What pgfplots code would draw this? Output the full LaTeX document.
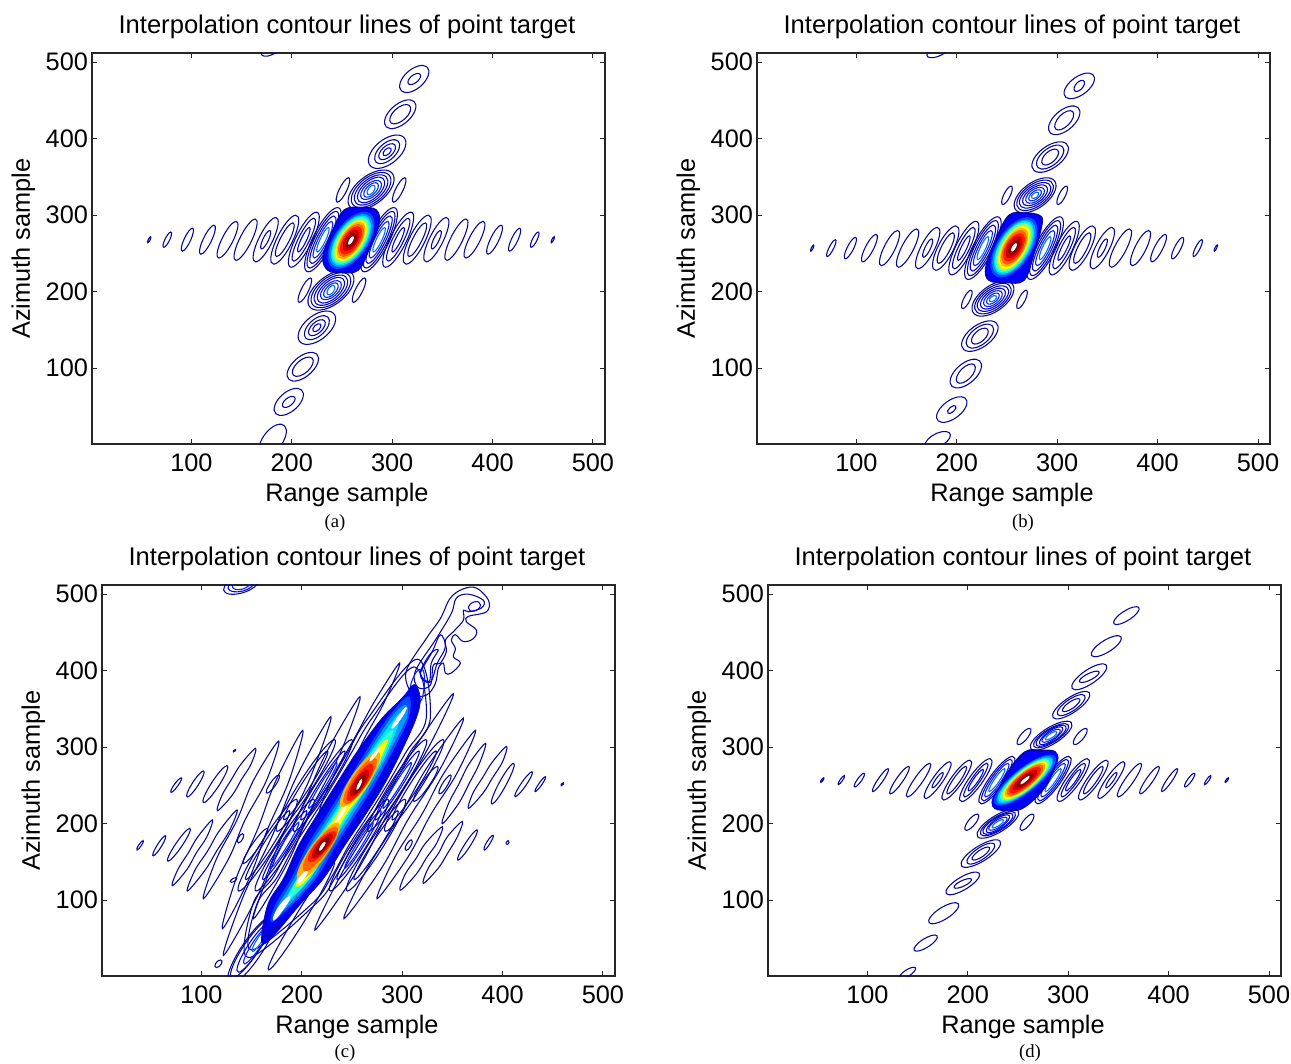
\documentclass[border=0pt]{standalone}
\usepackage{pgfplots}
\pgfplotsset{compat=1.18}
\usepackage{fontspec}
\setmainfont{Liberation Sans}
\newfontfamily\capfont{Liberation Serif}
\definecolor{J0}{rgb}{0.02,0.02,0.6}
\definecolor{J1}{rgb}{0,0,0.85}
\definecolor{J2}{rgb}{0,0.12,1}
\definecolor{J3}{rgb}{0,0.42,1}
\definecolor{K1}{rgb}{0,0,1}
\definecolor{K2}{rgb}{0,0.3,1}
\definecolor{K3}{rgb}{0,0.6,1}
\definecolor{K4}{rgb}{0,0.9,1}
\definecolor{K5}{rgb}{0.2,1,0.8}
\definecolor{K6}{rgb}{0.6,1,0.4}
\definecolor{K7}{rgb}{1,1,0}
\definecolor{K8}{rgb}{1,0.7,0}
\definecolor{K9}{rgb}{1,0.4,0}
\definecolor{K10}{rgb}{1,0.1,0}
\definecolor{K11}{rgb}{0.8,0,0}
\definecolor{K12}{rgb}{0.55,0,0}
\newcommand\Ea[1]{\addplot[J0,line width=0.8pt,smooth cycle,tension=1,no markers] coordinates {#1};}
\newcommand\Eb[1]{\addplot[J1,line width=0.8pt,smooth cycle,tension=1,no markers] coordinates {#1};}
\newcommand\Ec[1]{\addplot[J2,line width=0.8pt,smooth cycle,tension=1,no markers] coordinates {#1};}
\newcommand\Ed[1]{\addplot[J3,line width=0.8pt,smooth cycle,tension=1,no markers] coordinates {#1};}
\newcommand\Ma[1]{\addplot[J0,line width=0.8pt,smooth cycle,tension=0.6,no markers] coordinates {#1};}
\newcommand\Mb[1]{\addplot[J1,line width=0.8pt,smooth cycle,tension=0.6,no markers] coordinates {#1};}
\newcommand\Mc[1]{\addplot[J2,line width=0.8pt,smooth cycle,tension=0.6,no markers] coordinates {#1};}
\newcommand\Fl[2]{\addplot[draw=#1,fill=#1,line width=0.5pt,smooth cycle,tension=1,no markers] coordinates {#2};}
\newcommand\Fm[2]{\addplot[draw=#1,fill=#1,line width=0.5pt,smooth cycle,tension=0.6,no markers] coordinates {#2};}
\newcommand\Fo[1]{\addplot[draw=J0,fill=K1,line width=0.9pt,smooth cycle,tension=0.6,no markers] coordinates {#1};}
\pgfplotsset{panel/.style={
  scale only axis,width=384.75pt,height=293.25pt,
  xmin=1,xmax=512,ymin=1,ymax=512,
  xtick={100,200,300,400,500},ytick={100,200,300,400,500},
  tick align=inside,tick pos=both,major tick length=4pt,
  axis line style={line width=0.9pt,black!85},
  every tick/.style={black!85,line width=0.7pt},
  /pgf/number format/assume math mode=true,
  tick label style={font=\fontsize{19}{21}\selectfont},
  xticklabel style={yshift=-3.5pt},
  yticklabel style={xshift=0.5pt},
  every axis title shift=0pt,
  title={Interpolation contour lines of point target},
  xlabel={Range sample},ylabel={Azimuth sample},
  title style={at={(axis description cs:0.497,1.0665)},anchor=center,font=\fontsize{19.2}{21}\selectfont},
  xlabel style={at={(axis description cs:0.497,-0.130)},anchor=center,font=\fontsize{19}{21}\selectfont},
  ylabel style={at={(axis description cs:-0.134,0.5)},anchor=center,font=\fontsize{19}{21}\selectfont},
}}
\begin{document}
\begin{tikzpicture}
\path[use as bounding box] (0,0) rectangle (968.25pt,797.25pt);
% ---------------- (a)
\begin{axis}[panel,at={(69pt,464.25pt)},anchor=south west]
\Ea{(59.4,272)(59,268)(56.6,264)(57,268)}
\Ea{(79.5,278)(78.5,268)(72.5,258)(73.5,268)}
\Ea{(101,283)(99.5,268)(91,253)(92.5,268)}
\Ea{(122.5,287)(120.5,268)(109.5,249)(111.5,268)}
\Ea{(144.5,292)(142,268)(127.5,244)(130,268)}
\Ea{(163.5,295)(160.5,268)(144.5,241)(147.5,268)}
\Ea{(184,297)(181.5,268)(164,239)(166.5,268)}
\Ea{(178,280)(177,268)(170,256)(171,268)}
\Ea{(204,300)(201.5,268)(182,236)(184.5,268)}
\Ea{(201,290)(198,268)(185,246)(188,268)}
\Ea{(224.5,304)(221,268)(199.5,232)(203,268)}
\Ea{(222,296)(218,268)(202,240)(206,268)}
\Eb{(217.5,284)(215,268)(206.5,252)(209,268)}
\Ea{(245.5,310)(242,268)(216.5,226)(220,268)}
\Ea{(244,305)(240,268)(218,231)(222,268)}
\Eb{(242,299)(238,268)(220,237)(224,268)}
\Ec{(239.5,292)(236,268)(222.5,244)(226,268)}
\Ed{(236.5,284)(234,268)(225.5,252)(228,268)}
\Ea{(301.5,310)(298,268)(272.5,226)(276,268)}
\Ea{(300,305)(296,268)(274,231)(278,268)}
\Eb{(298,299)(294,268)(276,237)(280,268)}
\Ec{(295.5,292)(292,268)(278.5,244)(282,268)}
\Ed{(292.5,284)(290,268)(281.5,252)(284,268)}
\Ea{(318.5,304)(315,268)(293.5,232)(297,268)}
\Ea{(316,296)(312,268)(296,240)(300,268)}
\Eb{(311.5,284)(309,268)(300.5,252)(303,268)}
\Ea{(336,300)(333.5,268)(314,236)(316.5,268)}
\Ea{(333,290)(330,268)(317,246)(320,268)}
\Ea{(354,297)(351.5,268)(334,239)(336.5,268)}
\Ea{(348,280)(347,268)(340,256)(341,268)}
\Ea{(373.5,295)(370.5,268)(354.5,241)(357.5,268)}
\Ea{(390.5,292)(388,268)(373.5,244)(376,268)}
\Ea{(408.5,287)(406.5,268)(395.5,249)(397.5,268)}
\Ea{(427,283)(425.5,268)(417,253)(418.5,268)}
\Ea{(445.5,278)(444.5,268)(438.5,258)(439.5,268)}
\Ea{(461.4,272)(461,268)(458.6,264)(459,268)}
% vertical
\Ea{(326,495)(336,483)(318,461)(308,473)}
\Ea{(324,485)(328,480)(320,471)(316,476)}
\Ea{(312.5,450)(323,437.5)(303.5,414)(293,426.5)}
\Ea{(311,444)(318,436)(305,420)(298,428)}
\Ea{(300,404)(313,389)(290,362)(277,377)}
\Ea{(298.5,398)(307,387.5)(291.5,368)(283,378.5)}
\Ea{(297.5,393)(303,386)(292.5,373)(287,380)}
\Eb{(296,388)(299,384.5)(294,378)(291,381.5)}
\Ea{(285.5,358)(301,340.5)(272.5,308)(257,325.5)}
\Ea{(284.5,355)(298,339.5)(273.5,311)(260,326.5)}
\Eb{(284,352)(295,338.5)(274,314)(263,327.5)}
\Eb{(283,349)(292,338)(275,317)(266,328)}
\Ec{(282,345)(289,336.5)(276,321)(269,329.5)}
\Ec{(281,342)(286,336)(277,324)(272,330)}
\Ed{(280,339)(283,335)(278,327)(275,331)}
\Ea{(256.5,349)(255,333)(245.5,317)(247,333)}
\Ea{(312.5,349)(311,333)(301.5,317)(303,333)}
\Ea{(245.5,227)(261,209.5)(232.5,177)(217,194.5)}
\Ea{(244.5,224)(258,208.5)(233.5,180)(220,195.5)}
\Eb{(244,221)(255,207.5)(234,183)(223,196.5)}
\Eb{(243,218)(252,207)(235,186)(226,197)}
\Ec{(242,214)(249,205.5)(236,190)(229,198.5)}
\Ec{(241,211)(246,205)(237,193)(232,199)}
\Ed{(240,208)(243,204)(238,196)(235,200)}
\Ea{(218.5,218)(217,202)(207.5,186)(209,202)}
\Ea{(272.5,218)(271,202)(261.5,186)(263,202)}
\Ea{(230,174)(243,159)(220,132)(207,147)}
\Ea{(228.5,168)(237,157.5)(221.5,138)(213,148.5)}
\Ea{(227.5,163)(233,156)(222.5,143)(217,150)}
\Eb{(226,158)(229,154.5)(224,148)(221,151.5)}
\Ea{(215.5,120)(226,107.5)(206.5,84)(196,96.5)}
\Ea{(214,114)(221,106)(208,90)(201,98)}
\Ea{(201,73)(211,61)(193,39)(183,51)}
\Ea{(199,63)(203,58)(195,49)(191,54)}
\Ea{(185,26)(194,12)(177,-14)(168,0)}
\Ea{(182,524)(188,518)(176,508)(170,514)}
% centre
\Fo{(252.4,307)(269,310)(284,307)(287,289)(277,255)(266,228)(249,225)(236,228)(231,246)(241,281)}
\Fl{K1}{(273,307)(280,267)(245,227)(238,267)}
\Fl{K2}{(272,304)(278,267)(246,230)(240,267)}
\Fl{K3}{(271,301)(276.5,267)(247,233)(241.5,267)}
\Fl{K4}{(270,299)(275,267)(248,235)(243,267)}
\Fl{K5}{(269.5,297)(274,267)(248.5,237)(244,267)}
\Fl{K6}{(269,295)(272.5,267)(249,239)(245.5,267)}
\Fl{K7}{(268,293)(271.5,267)(250,241)(246.5,267)}
\Fl{K8}{(267.5,291)(270,267)(250.5,243)(248,267)}
\Fl{K9}{(266.5,288)(269,267)(251.5,246)(249,267)}
\Fl{K10}{(265.5,285)(267.5,267)(252.5,249)(250.5,267)}
\Fl{K11}{(263.5,280.5)(265.5,267)(254.5,253.5)(252.5,267)}
\Fl{K12}{(262,276)(263.5,267)(256,258)(254.5,267)}
\Fl{white}{(261,272)(260.7,267)(257,262)(257.3,267)}
\end{axis}
% ---------------- (b)
\begin{axis}[panel,at={(567.75pt,464.25pt)},anchor=south west]
\Ea{(57.4,261)(57,257)(54.6,253)(55,257)}
\Ea{(79,268)(77.5,257)(71,246)(72.5,257)}
\Ea{(99,271)(97.5,257)(89,243)(90.5,257)}
\Ea{(119.5,275)(117.5,257)(106.5,239)(108.5,257)}
\Ea{(141,280)(139,257)(125,234)(127,257)}
\Ea{(160,282)(157.5,257)(142,232)(144.5,257)}
\Ea{(180.5,284)(178.5,257)(161.5,230)(163.5,257)}
\Ea{(175,269)(174,257)(167,245)(168,257)}
\Ea{(199,286)(197.5,257)(179,228)(180.5,257)}
\Ea{(196,277)(194,257)(182,237)(184,257)}
\Ea{(219,292)(216,257)(195,222)(198,257)}
\Ea{(216.5,284)(213,257)(197.5,230)(201,257)}
\Eb{(212.5,273)(210,257)(201.5,241)(204,257)}
\Ea{(240.5,298)(237,257)(211.5,216)(215,257)}
\Ea{(238.5,293)(235,257)(213.5,221)(217,257)}
\Eb{(236.5,287)(233,257)(215.5,227)(219,257)}
\Ec{(234,280)(231,257)(218,234)(221,257)}
\Ed{(231,272)(229,257)(221,242)(223,257)}
\Ea{(302.5,298)(299,257)(273.5,216)(277,257)}
\Ea{(300.5,293)(297,257)(275.5,221)(279,257)}
\Eb{(298.5,287)(295,257)(277.5,227)(281,257)}
\Ec{(296,280)(293,257)(280,234)(283,257)}
\Ed{(293,272)(291,257)(283,242)(285,257)}
\Ea{(319,292)(316,257)(295,222)(298,257)}
\Ea{(316.5,284)(313,257)(297.5,230)(301,257)}
\Eb{(312.5,273)(310,257)(301.5,241)(304,257)}
\Ea{(335,286)(333.5,257)(315,228)(316.5,257)}
\Ea{(332,277)(330,257)(318,237)(320,257)}
\Ea{(354.5,284)(352.5,257)(335.5,230)(337.5,257)}
\Ea{(349,269)(348,257)(341,245)(342,257)}
\Ea{(372,282)(369.5,257)(354,232)(356.5,257)}
\Ea{(391,280)(389,257)(375,234)(377,257)}
\Ea{(407.5,275)(405.5,257)(394.5,239)(396.5,257)}
\Ea{(425,271)(423.5,257)(415,243)(416.5,257)}
\Ea{(444,268)(442.5,257)(436,246)(437.5,257)}
\Ea{(459.4,261)(459,257)(456.6,253)(457,257)}
% vertical
\Ea{(326.5,485)(336.5,474)(317.5,453)(307.5,464)}
\Ea{(323.5,476)(327,471)(320.5,462)(317,467)}
\Ea{(311.5,442)(322,429.5)(302.5,406)(292,418.5)}
\Ea{(310,436)(316,428)(304,412)(298,420)}
\Ea{(298,395)(310.5,382)(288,357)(275.5,370)}
\Ea{(297,391)(306,380.5)(289,361)(280,371.5)}
\Ea{(295.5,386)(301,379)(290.5,366)(285,373)}
\Ea{(284,348)(298,332.5)(272,304)(258,319.5)}
\Ea{(283,345)(295.5,332)(273,307)(260.5,320)}
\Eb{(282.5,342)(293,331)(273.5,310)(263,321)}
\Eb{(281.5,339)(290,330)(274.5,313)(266,322)}
\Ec{(280.5,336)(287,329)(275.5,316)(269,323)}
\Ec{(280,333)(284,328)(276,319)(272,324)}
\Ed{(279,330)(281.5,327)(277,322)(274.5,325)}
\Ea{(254,338)(253.5,326)(246,314)(246.5,326)}
\Ea{(309,338)(308.5,326)(301,314)(301.5,326)}
\Ea{(242,213)(256,197.5)(230,169)(216,184.5)}
\Ea{(241,210)(253.5,197)(231,172)(218.5,185)}
\Eb{(240.5,207)(251,196)(231.5,175)(221,186)}
\Eb{(239.5,204)(248,195)(232.5,178)(224,187)}
\Ec{(238.5,201)(245,194)(233.5,181)(227,188)}
\Ec{(238,198)(242,193)(234,184)(230,189)}
\Ed{(237,195)(239.5,192)(235,187)(232.5,190)}
\Ea{(214,202)(213.5,190)(206,178)(206.5,190)}
\Ea{(269,202)(268.5,190)(261,178)(261.5,190)}
\Ea{(228,161)(240.5,148)(218,123)(205.5,136)}
\Ea{(227,157)(236,146.5)(219,127)(210,137.5)}
\Ea{(225.5,152)(231,145)(220.5,132)(215,139)}
\Ea{(213.5,111)(224,98.5)(204.5,75)(194,87.5)}
\Ea{(212,105)(218,97)(206,81)(200,89)}
\Ea{(199.5,62)(209.5,51)(190.5,30)(180.5,41)}
\Ea{(196.5,51)(199,47.5)(193.5,41)(191,44.5)}
\Ea{(185,17)(193,9)(177,-5)(169,3)}
\Ea{(185,522)(191,516)(177,506)(171,512)}
% centre
\Fo{(252,300)(267,303)(282,300)(285,289)(277,250)(267,215)(249,212)(232,215)(229,233)(240,272)}
\Fl{K1}{(271,300)(278,258)(243,216)(236,258)}
\Fl{K2}{(270,297)(276,258)(244,219)(238,258)}
\Fl{K3}{(269,294)(274.5,258)(245,222)(239.5,258)}
\Fl{K4}{(268,292)(273,258)(246,224)(241,258)}
\Fl{K5}{(267.5,290)(272,258)(246.5,226)(242,258)}
\Fl{K6}{(267,288)(270.5,258)(247,228)(243.5,258)}
\Fl{K7}{(266,286)(269.5,258)(248,230)(244.5,258)}
\Fl{K8}{(265,283)(268,258)(249,233)(246,258)}
\Fl{K9}{(264,280)(267,258)(250,236)(247,258)}
\Fl{K10}{(263,276)(265.5,258)(251,240)(248.5,258)}
\Fl{K11}{(261.5,272)(263.5,258)(252.5,244)(250.5,258)}
\Fl{K12}{(260,267)(261.5,258)(254,249)(252.5,258)}
\Fl{white}{(259,263)(258.7,258)(255,253)(255.3,258)}
\end{axis}
% ---------------- (c)
\begin{axis}[panel,at={(76.5pt,65.25pt)},anchor=south west]
% outer streaks, left
\Ea{(80,260)(77,250.5)(70,241)(72.6,250.5)}
\Ea{(102,269)(97.5,252)(86,235)(90.5,252)}
\Ea{(125.5,276)(118.5,252)(102.3,227.5)(109.5,252)}
\Ma{(154,298.5)(149.5,278)(140,258)(130.5,237)(116,217)(120.5,237)(130,258)(139.5,278)}
\Ea{(42,178)(40.4,172)(36,165.6)(37.4,172)}
\Ea{(64,184.4)(60.5,171)(52,158)(55.5,171)}
\Ea{(88.4,194)(81.4,172.5)(66.8,151)(73.8,172.5)}
\Ma{(111,205)(105.5,183)(95,162)(85.5,140)(71,119)(76.5,140)(87,162)(96.5,183)}
\Ma{(135.5,218)(128,191)(115.5,165)(103.5,139)(86,112)(93.5,139)(106.5,165)(118,191)}
\Ma{(177,308)(165,257)(143.5,205)(127,154)(102,102)(115,154)(135.5,205)(152,257)}
\Ma{(201,322)(187.5,257)(166,193)(147.5,128)(121,63)(134.5,128)(156,193)(174.5,257)}
\Ma{(229,340)(209,262)(180.5,184)(156,106)(122,28)(142,106)(170.5,184)(195,262)}
\Ma{(258,366)(238.5,293)(210,221)(185.5,148)(152,76)(171.5,148)(200,221)(224.5,293)}
\Ma{(297.5,410)(283,361)(263,313)(244,264)(218,216)(232,264)(253,313)(273,361)}
% outer streaks, right
\Ea{(405.5,178)(406.5,175.6)(404.5,173)(403.5,175.6)}
\Ea{(390.5,185)(388,175.4)(382,165.6)(384,175.4)}
\Ea{(374.5,192)(368.2,172)(355.6,152.5)(361.8,172)}
\Ma{(360,203)(355,183)(345.5,162)(336,142)(321,122)(326,142)(336.5,162)(345,183)}
\Ma{(340,196)(334.5,175)(324,155)(314,134)(298,113)(303,134)(314,155)(323.5,175)}
\Ma{(373,322)(355,267)(328.5,212)(306,157)(275,102)(293,157)(319.5,212)(342,267)}
\Ma{(361,338)(338,272)(306.5,207)(279,141)(242,76)(265,141)(296.5,207)(324,272)}
\Ma{(351,370)(323.5,293)(287,216)(255,138)(213,61)(241,138)(277,216)(309.5,293)}
\Ea{(232,150)(206,80)(167,9)(194,80)}
\Ma{(404,301)(400,281)(390,260)(380.5,240)(366,220)(370.5,240)(380,260)(390,281)}
\Ma{(383,305)(377,279)(366.5,252)(356,226)(340,200)(346,226)(356.5,252)(367,279)}
\Ea{(411,279)(404,252)(389.5,225.7)(396,252)}
\Ea{(429.3,268)(424,251.6)(412.7,235.3)(418,251.6)}
\Ea{(442.6,261.5)(439.4,251.7)(432.6,242)(435.8,251.7)}
\Ea{(460.5,253.5)(460.7,251.6)(458.5,249.7)(458.3,251.6)}
% small ovals
\Ea{(134,297)(134,295.5)(132,294)(132,295.5)}
\Ea{(177,263.6)(174.5,251.6)(165.4,240)(168,251.6)}
\Ea{(141,187)(141.5,181)(137,175)(136.5,181)}
\Ea{(134,129.5)(134.5,126.4)(130,123.5)(129.5,126.4)}
\Ea{(165.4,194)(158,171)(142,148)(149.5,171)}
\Ea{(309,179)(309,172)(304,165)(304,172)}
\Ea{(348,263.6)(345.5,251)(337.4,239)(339.5,251)}
\Ea{(335,275)(328,252)(312,229)(319,252)}
\Ea{(119,22)(120,17)(115,12)(114,17)}
% flanks, upper row
\Ea{(249.5,310)(229,250)(192.5,190)(213,250)}
\Eb{(242.5,295)(226,250)(199.5,205)(216,250)}
\Ec{(235,280)(224,250)(207,220)(218,250)}
\Ea{(323.5,310)(303,250)(266.5,190)(287,250)}
\Eb{(316.5,295)(300,250)(273.5,205)(290,250)}
\Ec{(309,280)(298,250)(281,220)(292,250)}
\Ea{(232.5,310)(212,250)(175.5,190)(196,250)}
\Ea{(225.5,295)(209,250)(182.5,205)(199,250)}
\Ea{(340.5,310)(320,250)(283.5,190)(304,250)}
\Ea{(333.5,295)(317,250)(290.5,205)(307,250)}
% flanks, lower row
\Ea{(211.5,232)(191,172)(154.5,112)(175,172)}
\Eb{(204.5,217)(188,172)(161.5,127)(178,172)}
\Ec{(197,202)(186,172)(169,142)(180,172)}
\Ea{(285.5,232)(265,172)(228.5,112)(249,172)}
\Eb{(278.5,217)(262,172)(235.5,127)(252,172)}
\Ec{(271,202)(260,172)(243,142)(254,172)}
\Ea{(194.5,232)(174,172)(137.5,112)(158,172)}
\Ea{(187.5,217)(171,172)(144.5,127)(161,172)}
\Ea{(302.5,232)(282,172)(245.5,112)(266,172)}
\Ea{(295.5,217)(279,172)(252.5,127)(269,172)}
% lines hugging the band
\Ma{(147,25)(151,94)(171,129)(189,172)(208,211)(227,251)(246,294)(266,338)(315,415)(328,338)(308,294)(289,251)(270,211)(251,172)(233,129)(213,94)}
\Ma{(150,35)(155,94)(175,129)(193,172)(212,211)(231,251)(250,294)(270,338)(312,405)(324,338)(304,294)(285,251)(266,211)(247,172)(229,129)(209,94)}
% top tail
\Ma{(304,399)(324,442)(338,468)(348,495)(361,507)(374,508)(386,492)(384,477)(366,471)(364,464)(374,453)(371,442)(361,438)(353,447)(349,440)(353,429)(351,418)(358,410)(349,397)(343,397)(341,410)(336,403)(333,383)(324,368)(310,370)}
\Ma{(313,399)(334,442)(349,475)(354,495)(366,500)(381,492)(379,482)(366,477)(361,479)(361,466)(351,451)(343,440)(344,425)(338,410)(331,407)(328,381)(316,378)}
\Eb{(372,490)(378,486)(372,478)(366,482)}
\Mb{(318,395)(330,425)(338,447)(343,431)(335,410)(328,385)}
\Mb{(318,397)(328,422)(336,427)(329,410)(327,386)}
\Mc{(308,375)(314,398)(321,400)(322,380)(318,360)}
% bottom tail
\Ea{(171,80)(162,35)(129,-10)(138,35)}
\Ea{(170,78)(159,38)(131,-2)(141,38)}
\Eb{(167,70)(159,38)(137,6)(145,38)}
\Ec{(167,67)(160,42)(143,17)(150,42)}
\Ed{(165,63)(161,48)(151,33)(155,48)}
% top blob
\Ea{(145,524)(156,514)(134,500)(123,510)}
\Eb{(143,521)(152,513)(136,503)(127,511)}
\Ec{(141,518)(148,513)(138,506)(131,511)}
% band
\Fm{J1}{(160,45)(166,94)(182,129)(197,172)(215,211)(234,251)(255,294)(280,338)(300,364)(312,382)(318,364)(314,338)(299,294)(282,251)(263,211)(243,172)(222,129)(198,94)(172,54)}
\Fm{K1}{(165,60)(170,94)(186,129)(202,172)(221,211)(240,251)(260,294)(283,338)(310,375)(310,338)(294,294)(276,251)(257,211)(238,172)(218,129)(194,94)}
\Fm{K2}{(170,72)(174,94)(190,129)(206,172)(225,211)(244,251)(264,294)(286,338)(306,366)(306,338)(290,294)(272,251)(253,211)(234,172)(214,129)(190,94)}
\Fm{K3}{(174,80)(177,94)(193,129)(209,172)(228,211)(247,251)(267,294)(289,338)(303,355)(304,338)(287,294)(269,251)(250,211)(231,172)(211,129)(187,94)}
\Fm{K4}{(178,88)(196,129)(212,172)(231,211)(250,251)(269,294)(298,344)(285,294)(266,251)(247,211)(228,172)(208,129)(184,94)}
\Fm{K5}{(187,103)(196,129)(213,172)(233,211)(251,251)(271,294)(290,322)(283,294)(265,251)(245,211)(227,172)(208,129)}
\Fm{K7}{(195,118)(197,129)(213,172)(235,211)(251,251)(273,294)(285,310)(281,294)(266,251)(243,211)(228,172)(206,129)}
\Fl{K8}{(275,294)(268,258)(241,222)(248,258)}
\Fl{K8}{(235,201)(226.5,164)(198,127)(206.5,164)}
\Fl{K9}{(272,286)(266.5,256)(244,226)(249.5,256)}
\Fl{K9}{(233.5,196)(227,168)(203.5,138)(210,168)}
\Fl{K10}{(269,278)(265,254)(247,230)(251,254)}
\Fl{K10}{(232,190)(228,172)(209,150)(213,172)}
\Fl{K11}{(265,270)(263,253)(250,236)(252,253)}
\Fl{K11}{(229,186)(226,171)(212,155)(215,171)}
\Fl{K12}{(262,264)(261,252)(253,240)(254,252)}
\Fl{K12}{(226,181)(224,171)(215,160)(216,171)}
\Fl{white}{(259.5,258)(258.5,251)(255,245)(256,251)}
\Fl{white}{(223,176)(222,171)(218,165)(219,171)}
\Fl{white}{(244,223)(241,213)(234,202)(238,213)}
\Fl{white}{(304,352)(299,338)(290,325)(295,338)}
\Fl{white}{(188,105)(183,91)(172,74)(177,91)}
\Fl{white}{(205,138)(203,130)(196,122)(198,130)}
\Fl{white}{(277,298)(274,290)(268,282)(271,290)}
\end{axis}
% ---------------- (d)
\begin{axis}[panel,at={(576pt,65.25pt)},anchor=south west]
\Ea{(56.5,260)(56,257)(53.5,254)(54,257)}
\Ea{(77,263)(75.5,257)(71,251)(72.5,257)}
\Ea{(96.5,266)(94.5,257)(87.5,248)(89.5,257)}
\Ea{(120.5,272)(116,257)(105.5,242)(110,257)}
\Ea{(141,275)(136,257)(123,239)(128,257)}
\Ea{(162,279)(156,257)(140,235)(146,257)}
\Ea{(182,281)(176,257)(158,233)(164,257)}
\Ea{(175,267)(172.5,257)(165,247)(167.5,257)}
\Ea{(202,283)(196,257)(176,231)(182,257)}
\Ea{(198,275)(193,257)(180,239)(185,257)}
\Ea{(222,285)(216,257)(194,229)(200,257)}
\Ea{(219,279)(213,257)(197,235)(203,257)}
\Eb{(215,271)(211,257)(201,243)(205,257)}
\Ea{(244.5,288)(238,257)(213.5,226)(220,257)}
\Eb{(242.5,284)(236,257)(215.5,230)(222,257)}
\Ec{(240,279)(234,257)(218,235)(224,257)}
\Ed{(236.5,272)(232,257)(221.5,242)(226,257)}
\Ea{(300.5,288)(294,257)(269.5,226)(276,257)}
\Eb{(298.5,284)(292,257)(271.5,230)(278,257)}
\Ec{(296,279)(290,257)(274,235)(280,257)}
\Ed{(292.5,272)(288,257)(277.5,242)(282,257)}
\Ea{(319,285)(313,257)(291,229)(297,257)}
\Ea{(316,279)(310,257)(294,235)(300,257)}
\Eb{(312,271)(308,257)(298,243)(302,257)}
\Ea{(338,283)(332,257)(312,231)(318,257)}
\Ea{(334,275)(329,257)(316,239)(321,257)}
\Ea{(355,281)(349,257)(331,233)(337,257)}
\Ea{(348,267)(345.5,257)(338,247)(340.5,257)}
\Ea{(372,279)(366,257)(350,235)(356,257)}
\Ea{(390,275)(385,257)(372,239)(377,257)}
\Ea{(408.5,272)(404,257)(393.5,242)(398,257)}
\Ea{(425.5,266)(423.5,257)(416.5,248)(418.5,257)}
\Ea{(442,263)(440.5,257)(436,251)(437.5,257)}
\Ea{(459.5,260)(459,257)(456.5,254)(457,257)}
% vertical
\Ea{(364.5,483)(369,476)(351.5,461)(347,468)}
\Ea{(345.5,445)(351,436.5)(330.5,419)(325,427.5)}
\Ea{(330,408)(336,397.5)(312,376)(306,386.5)}
\Ea{(326,399)(329.5,394.5)(316,385)(312.5,389.5)}
\Ea{(312.5,372)(319,361)(293.5,338)(287,349)}
\Ea{(310,368)(315,359.5)(296,342)(291,350.5)}
\Ea{(307.5,363)(310.5,358)(298.5,347)(295.5,352)}
\Ea{(293.5,333)(301,321)(272.5,297)(265,309)}
\Ea{(292,330)(298,320)(274,300)(268,310)}
\Eb{(290.5,328)(296,319.5)(275.5,302)(270,310.5)}
\Eb{(289,326)(293,319)(277,304)(273,311)}
\Ec{(287.5,323)(291,318)(278.5,307)(275,312)}
\Ed{(286,320)(288,317)(280,310)(278,313)}
\Ea{(259.5,324)(262,317.5)(252.5,304)(250,310.5)}
\Ea{(315.5,324)(318,317.5)(308.5,304)(306,310.5)}
\Ea{(240.5,218)(248,206)(219.5,182)(212,194)}
\Ea{(239,215)(245,205)(221,185)(215,195)}
\Eb{(237.5,213)(243,204.5)(222.5,187)(217,195.5)}
\Eb{(236,211)(240,204)(224,189)(220,196)}
\Ec{(234.5,208)(238,203)(225.5,192)(222,197)}
\Ed{(233,205)(235,202)(227,195)(225,198)}
\Ea{(207.5,212)(210,205.5)(200.5,192)(198,198.5)}
\Ea{(262.5,212)(265,205.5)(255.5,192)(253,198.5)}
\Ea{(223,178)(230,167)(203,144)(196,155)}
\Ea{(220,174)(225,165.5)(206,148)(201,156.5)}
\Ea{(217.5,169)(220.5,164)(208.5,153)(205.5,158)}
\Ea{(203.5,136)(209.5,127)(186.5,108)(180.5,117)}
\Ea{(199.5,128)(202.5,124)(190.5,116)(187.5,120)}
\Ea{(183.5,96)(189,87.5)(168.5,70)(163,78.5)}
\Ea{(164,54)(168,47.5)(152,34)(148,40.5)}
\Ea{(144,12)(147,7.5)(136,-2)(133,2.5)}
% centre
\Fo{(257,294)(273,296)(287,294)(288,279)(277,248)(257,222)(242,217)(227,220)(226,231)(240,268)}
\Fl{K1}{(284,293)(276,257)(230,221)(238,257)}
\Fl{K2}{(282,290)(274.5,257)(232,224)(239.5,257)}
\Fl{K3}{(280,288)(273,257)(234,226)(241,257)}
\Fl{K4}{(279,286)(272,257)(235,228)(242,257)}
\Fl{K5}{(277,284)(271,257)(237,230)(243,257)}
\Fl{K6}{(276,282.5)(270,257)(238,231.5)(244,257)}
\Fl{K7}{(275,281)(269,257)(239,233)(245,257)}
\Fl{K8}{(273.5,279)(268,257)(240.5,235)(246,257)}
\Fl{K9}{(272,277)(267,257)(242,237)(247,257)}
\Fl{K10}{(270,274)(265.5,257)(244,240)(248.5,257)}
\Fl{K11}{(267,270)(263.5,257)(247,244)(250.5,257)}
\Fl{K12}{(264,266)(261.5,257)(250,248)(252.5,257)}
\Fl{white}{(261,262)(258.7,257)(253,252)(255.3,257)}
\end{axis}
\node[font=\capfont\fontsize{14}{16}\selectfont] at (251.25pt,405pt) {(a)};
\node[font=\capfont\fontsize{14}{16}\selectfont] at (767.25pt,405pt) {(b)};
\node[font=\capfont\fontsize{14}{16}\selectfont] at (258.75pt,7.5pt) {(c)};
\node[font=\capfont\fontsize{14}{16}\selectfont] at (772.5pt,7.5pt) {(d)};
\end{tikzpicture}
\end{document}
